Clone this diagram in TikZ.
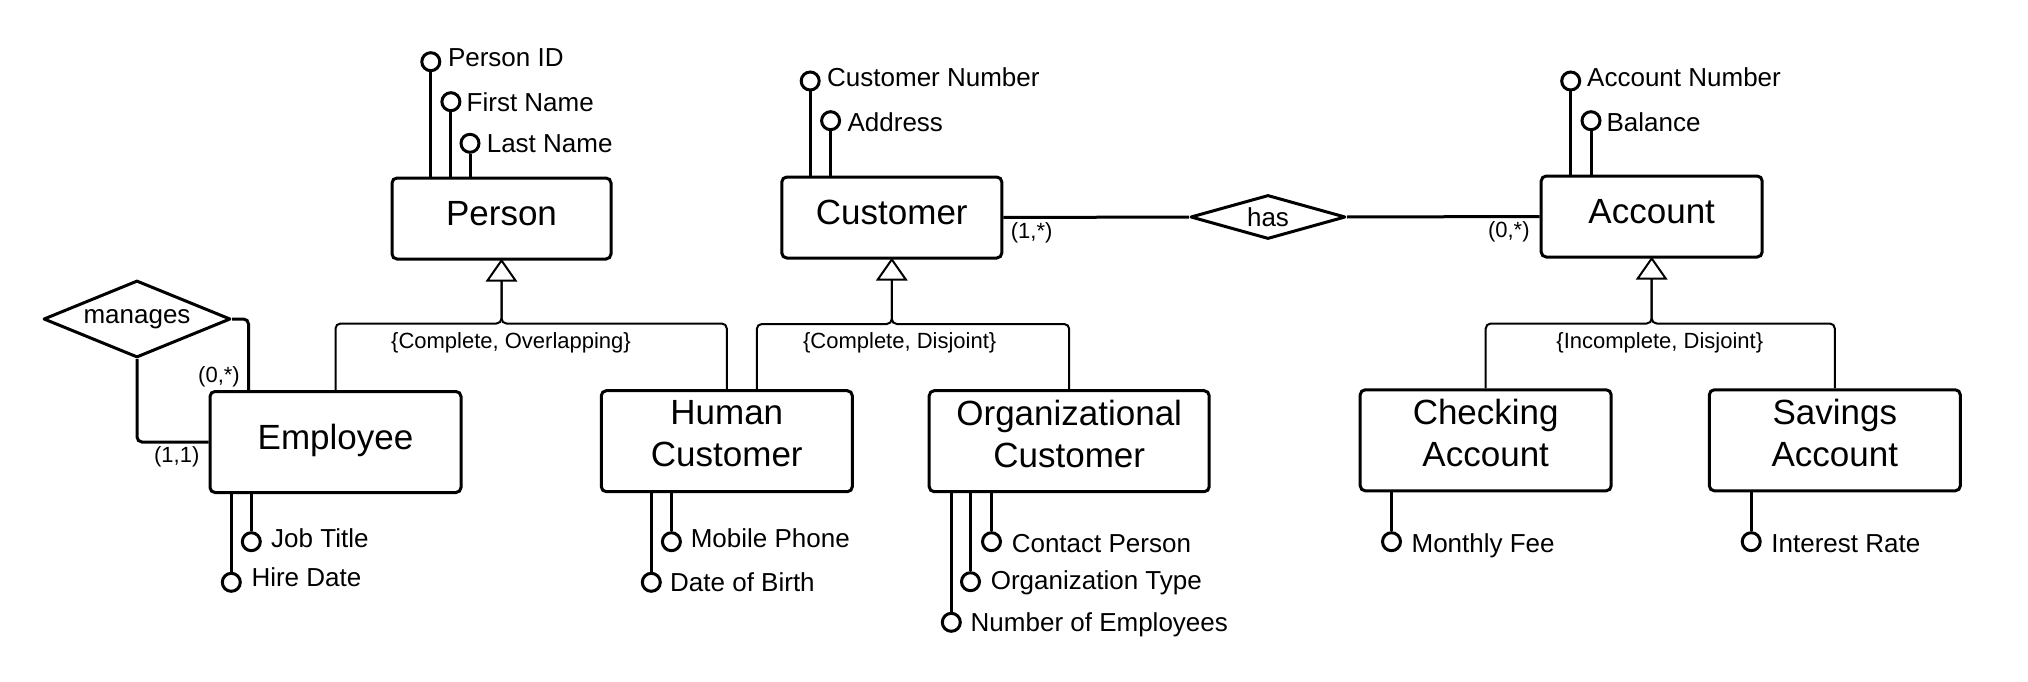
\documentclass[tikz,border=0pt]{standalone}
\usepackage{fontspec}
\setmainfont{Liberation Sans}
\usetikzlibrary{shapes.geometric,calc}
\begin{document}
\begin{tikzpicture}[x=1pt,y=-1pt,
 ent/.style={draw,line width=3pt,rounded corners=5pt,inner sep=0pt},
 etx/.style={inner sep=0pt,font=\fontsize{35}{42}\selectfont,text height=25.1pt,text depth=0pt},
 mtx/.style={inner sep=0pt,font=\fontsize{35}{42}\selectfont,align=center},
 attc/.style={draw,circle,line width=3pt,minimum size=18pt,inner sep=0pt},
 atx/.style={anchor=west,inner sep=0pt,font=\fontsize{26}{31}\selectfont,text height=18.6pt,text depth=0pt},
 attl/.style={line width=3pt},
 rel/.style={draw,diamond,line width=3pt,line join=round,inner sep=0pt,font=\fontsize{26}{31}\selectfont},
 rl/.style={line width=3pt,rounded corners=5pt},
 gtri/.style={draw,line width=2pt,fill=white},
 gl/.style={line width=2pt,rounded corners=5pt},
 small/.style={inner sep=0pt,font=\fontsize{22}{26}\selectfont},
]
\useasboundingbox (0,0) rectangle (2028,682);

% entities
\node[ent,minimum width=219pt,minimum height=81pt] (person) at (501.5,218.5) {};
\node[ent,minimum width=220pt,minimum height=81pt] (cust) at (891.8,217.5) {};
\node[ent,minimum width=221pt,minimum height=81pt] (acc) at (1651.7,216.5) {};
\node[ent,minimum width=251pt,minimum height=101pt] (emp) at (335.5,442) {};
\node[ent,minimum width=251pt,minimum height=101pt] (hc) at (726.8,441.2) {};
\node[ent,minimum width=280pt,minimum height=101pt] (oc) at (1069.2,441.2) {};
\node[ent,minimum width=251pt,minimum height=101pt] (ca) at (1485.7,440.3) {};
\node[ent,minimum width=251pt,minimum height=101pt] (sa) at (1834.8,440.3) {};

\node[etx] (persont) at (501.5,212.8) {Person};
\node[etx] (custt) at (891.8,211.7) {Customer};
\node[etx] (acct) at (1651.7,211) {Account};
\node[etx] (empt) at (335.5,436.7) {Employee};
\node[mtx] (hct) at (726.8,434) {Human\\Customer};
\node[mtx] (oct) at (1069.2,434) {Organizational\\Customer};
\node[mtx] (cat) at (1485.7,433) {Checking\\Account};
\node[mtx] (sat) at (1834.8,433) {Savings\\Account};

% relationships
\node[rel,minimum width=187pt,minimum height=77pt,aspect=2.4] (man) at (137,319) {manages};
\node[rel,minimum width=155pt,minimum height=44pt,aspect=3.4] (has) at (1268,217) {has};

\draw[rl] (man.east) -| ([xshift=40pt]emp.north west);
\draw[rl] (man.south) |- (emp.west);
\draw[rl] (cust.east) -- (has.west);
\draw[rl] (has.east) -- (acc.west);

\node[small,anchor=east] (k1) at (240,376.7) {(0,*)};
\node[small,anchor=east] (k2) at (199.6,456.7) {(1,1)};
\node[small,anchor=west] (k3) at (1010.7,233.3) {(1,*)};
\node[small,anchor=east] (k4) at (1529.8,231.7) {(0,*)};

% generalisations
\coordinate (pb) at ($(person.south)+(0,20)$);
\draw[gl] (pb) -- ++(0,43) -| (emp.north);
\draw[gl] (pb) -- ++(0,43) -| (hc.north);
\draw[gtri] (person.south) -- ++(-14,20) -- ++(28,0) -- cycle;

\coordinate (cb) at ($(cust.south)+(0,20)$);
\draw[gl] (cb) -- ++(0,44.5) -| ([xshift=30pt]hc.north);
\draw[gl] (cb) -- ++(0,44.5) -| (oc.north);
\draw[gtri] (cust.south) -- ++(-14,20) -- ++(28,0) -- cycle;

\coordinate (ab) at ($(acc.south)+(0,20)$);
\draw[gl] (ab) -- ++(0,45) -| (ca.north);
\draw[gl] (ab) -- ++(0,45) -| (sa.north);
\draw[gtri] (acc.south) -- ++(-14,20) -- ++(28,0) -- cycle;

\node[small] (g1) at (511,343.3) {\{Complete, Overlapping\}};
\node[small] (g2) at (899.7,343.3) {\{Complete, Disjoint\}};
\node[small] (g3) at (1659.8,343.3) {\{Incomplete, Disjoint\}};

% attributes of Person
\node[attc] (pid) at (430.8,61.7) {};
\node[atx] (pidt) at (447.8,57.2) {Person ID};
\draw[attl] (pid.south) -- (pid.south |- person.north);
\node[attc] (pfn) at (450.9,101.7) {};
\node[atx] (pfnt) at (466.5,102.5) {First Name};
\draw[attl] (pfn.south) -- (pfn.south |- person.north);
\node[attc] (pln) at (470,143.3) {};
\node[atx] (plnt) at (486.6,143) {Last Name};
\draw[attl] (pln.south) -- (pln.south |- person.north);

% attributes of Customer
\node[attc] (cnum) at (810.2,81) {};
\node[atx] (cnumt) at (827,77) {Customer Number};
\draw[attl] (cnum.south) -- (cnum.south |- cust.north);
\node[attc] (cadr) at (830.6,120.7) {};
\node[atx] (cadrt) at (847.4,122) {Address};
\draw[attl] (cadr.south) -- (cadr.south |- cust.north);

% attributes of Account
\node[attc] (anum) at (1570.7,81) {};
\node[atx] (anumt) at (1587,77) {Account Number};
\draw[attl] (anum.south) -- (anum.south |- acc.north);
\node[attc] (abal) at (1591,120.7) {};
\node[atx] (abalt) at (1606.4,122) {Balance};
\draw[attl] (abal.south) -- (abal.south |- acc.north);

% attributes of Employee
\node[attc] (jt) at (251.3,541.7) {};
\node[atx] (jtt) at (271,537.8) {Job Title};
\draw[attl] (jt.north) -- (jt.north |- emp.south);
\node[attc] (hd) at (231.3,582.3) {};
\node[atx] (hdt) at (251.3,577.5) {Hire Date};
\draw[attl] (hd.north) -- (hd.north |- emp.south);

% attributes of Human Customer
\node[attc] (mp) at (671.4,541.7) {};
\node[atx] (mpt) at (690.6,537.8) {Mobile Phone};
\draw[attl] (mp.north) -- (mp.north |- hc.south);
\node[attc] (dob) at (651.3,582.3) {};
\node[atx] (dobt) at (670,582.5) {Date of Birth};
\draw[attl] (dob.north) -- (dob.north |- hc.south);

% attributes of Organizational Customer
\node[attc] (cp) at (991.5,541.7) {};
\node[atx] (cpt) at (1011.6,542.8) {Contact Person};
\draw[attl] (cp.north) -- (cp.north |- oc.south);
\node[attc] (ot) at (970.5,581.7) {};
\node[atx] (ott) at (990.6,580.5) {Organization Type};
\draw[attl] (ot.north) -- (ot.north |- oc.south);
\node[attc] (ne) at (951.3,622.3) {};
\node[atx] (net) at (970.5,622.2) {Number of Employees};
\draw[attl] (ne.north) -- (ne.north |- oc.south);

% attributes of Checking / Savings
\node[attc] (mf) at (1391.5,541.7) {};
\node[atx] (mft) at (1411.4,542.8) {Monthly Fee};
\draw[attl] (mf.north) -- (mf.north |- ca.south);
\node[attc] (ir) at (1751.2,541.7) {};
\node[atx] (irt) at (1771.2,542.8) {Interest Rate};
\draw[attl] (ir.north) -- (ir.north |- sa.south);
\end{tikzpicture}
\end{document}
